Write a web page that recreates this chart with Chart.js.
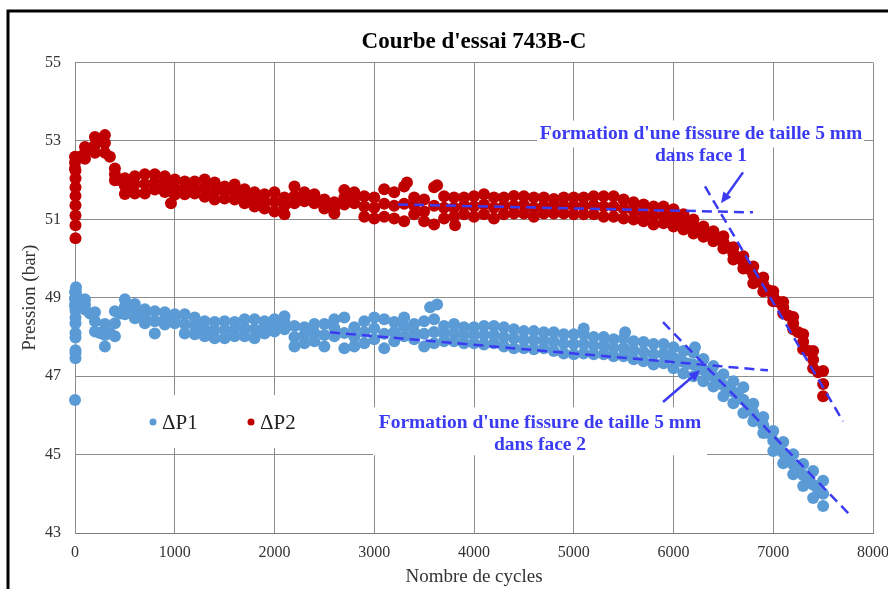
<!DOCTYPE html>
<html>
<head>
<meta charset="utf-8">
<script src="https://cdn.jsdelivr.net/npm/chart.js@4.4.1/dist/chart.umd.min.js"></script>
<style>
  html, body { margin: 0; padding: 0; background: #fff; }
  #wrap { width: 888px; height: 589px; position: relative; }
</style>
</head>
<body>
<div id="wrap"><canvas id="essaiChart"></canvas></div>
<script>
// Courbe d'essai 743B-C

// x positions of the band readings (cycles)
const cycles = [
  0, 100, 200, 300, 400, 500, 600, 700, 800, 900,
  1000, 1100, 1200, 1300, 1400, 1500, 1600, 1700, 1800, 1900,
  2000, 2100, 2200, 2300, 2400, 2500, 2600, 2700, 2800, 2900,
  3000, 3100, 3200, 3300, 3400, 3500, 3600, 3700, 3800, 3900,
  4000, 4100, 4200, 4300, 4400, 4500, 4600, 4700, 4800, 4900,
  5000, 5100, 5200, 5300, 5400, 5500, 5600, 5700, 5800, 5900,
  6000, 6100, 6200, 6300, 6400, 6500, 6600, 6700, 6800, 6900,
  7000, 7100, 7200, 7300, 7400, 7500
];

// ΔP2 (red) : top, middle and bottom of the point cloud
const p2High = [
  52.6, 52.85, 53.1, 53.15, 52.3, 52.05, 52.1, 52.15, 52.15, 52.1,
  52.02, 51.97, 51.97, 52.02, 51.94, 51.84, 51.89, 51.77, 51.69, 51.64,
  51.69, 51.56, 51.84, 51.69, 51.64, 51.51, 51.44, 51.75, 51.69, 51.59,
  51.56, 51.77, 51.69, 51.84, 51.56, 51.51, 51.82, 51.59, 51.56, 51.56,
  51.59, 51.64, 51.56, 51.56, 51.6, 51.59, 51.56, 51.56, 51.52, 51.56,
  51.56, 51.56, 51.59, 51.59, 51.59, 51.51, 51.44, 51.38, 51.33, 51.33,
  51.26, 51.13, 51.0, 50.82, 50.7, 50.57, 50.29, 50.06, 49.8, 49.52,
  49.17, 48.89, 48.51, 48.07, 47.64, 47.13
];
const p2Mid = [
  52.45, 52.7, 52.9, 52.95, 52.15, 51.85, 51.9, 51.9, 51.95, 51.9,
  51.8, 51.8, 51.8, 51.8, 51.72, 51.7, 51.7, 51.6, 51.5, 51.45,
  51.45, 51.35, 51.6, 51.57, 51.52, 51.4, 51.3, 51.55, 51.55, 51.33,
  51.3, 51.4, 51.35, 51.4, 51.35, 51.2, 51.35, 51.3, 51.3, 51.35,
  51.33, 51.38, 51.3, 51.35, 51.35, 51.37, 51.3, 51.35, 51.35, 51.35,
  51.35, 51.34, 51.36, 51.33, 51.33, 51.27, 51.22, 51.16, 51.1, 51.1,
  51.04, 50.94, 50.82, 50.7, 50.57, 50.42, 50.13, 49.9, 49.58, 49.34,
  49.04, 48.75, 48.35, 47.88, 47.42, 46.8
];
const p2Low = [
  52.3, 52.55, 52.7, 52.7, 52.0, 51.65, 51.66, 51.66, 51.76, 51.7,
  51.63, 51.64, 51.66, 51.58, 51.51, 51.53, 51.51, 51.41, 51.33, 51.28,
  51.2, 51.13, 51.41, 51.46, 51.41, 51.28, 51.15, 51.38, 51.41, 51.07,
  51.02, 51.07, 51.02, 50.95, 51.13, 50.95, 50.87, 51.02, 51.07, 51.13,
  51.07, 51.13, 51.02, 51.13, 51.15, 51.15, 51.07, 51.15, 51.15, 51.15,
  51.13, 51.13, 51.13, 51.07, 51.07, 51.02, 51.0, 50.95, 50.87, 50.9,
  50.82, 50.74, 50.64, 50.56, 50.44, 50.26, 49.98, 49.75, 49.37, 49.16,
  48.91, 48.6, 48.2, 47.69, 47.2, 46.49
];

// ΔP1 (blue)
const p1High = [
  49.15, 48.96, 48.63, 48.33, 48.66, 48.96, 48.84, 48.71, 48.66, 48.63,
  48.58, 48.58, 48.5, 48.4, 48.38, 48.4, 48.38, 48.45, 48.45, 48.4,
  48.45, 48.53, 48.28, 48.25, 48.33, 48.33, 48.45, 48.5, 48.25, 48.4,
  48.5, 48.45, 48.38, 48.5, 48.33, 48.4, 48.45, 48.28, 48.33, 48.25,
  48.25, 48.28, 48.28, 48.25, 48.2, 48.15, 48.15, 48.12, 48.12, 48.07,
  48.07, 48.07, 48.0, 48.0, 47.94, 47.96, 47.89, 47.87, 47.82, 47.82,
  47.74, 47.64, 47.6, 47.44, 47.26, 47.05, 46.87, 46.72, 46.3, 45.96,
  45.6, 45.32, 45.01, 44.76, 44.58, 44.33
];
const p1Mid = [
  48.98, 48.83, 48.4, 48.05, 48.35, 48.77, 48.66, 48.53, 48.4, 48.47,
  48.46, 48.33, 48.28, 48.2, 48.17, 48.18, 48.2, 48.23, 48.2, 48.25,
  48.3, 48.37, 48.0, 48.05, 48.1, 48.05, 48.23, 48.1, 48.0, 48.12,
  48.22, 48.08, 48.13, 48.26, 48.13, 48.08, 48.13, 48.08, 48.1, 48.05,
  48.05, 48.05, 48.05, 48.0, 47.96, 47.93, 47.92, 47.92, 47.88, 47.83,
  47.82, 47.82, 47.78, 47.78, 47.72, 47.72, 47.66, 47.62, 47.56, 47.57,
  47.47, 47.36, 47.3, 47.15, 47.0, 46.77, 46.6, 46.4, 46.07, 45.75,
  45.35, 45.05, 44.75, 44.48, 44.23, 44.0
];
const p1Low = [
  48.8, 48.7, 48.14, 47.76, 48.02, 48.58, 48.48, 48.35, 48.09, 48.32,
  48.35, 48.09, 48.07, 48.02, 47.97, 47.97, 48.02, 48.02, 47.97, 48.09,
  48.14, 48.2, 47.76, 47.84, 47.89, 47.76, 48.02, 47.71, 47.76, 47.84,
  47.94, 47.71, 47.89, 48.02, 47.94, 47.76, 47.84, 47.89, 47.89, 47.84,
  47.84, 47.81, 47.84, 47.76, 47.71, 47.71, 47.69, 47.71, 47.64, 47.58,
  47.56, 47.58, 47.56, 47.56, 47.51, 47.51, 47.43, 47.38, 47.3, 47.33,
  47.2, 47.07, 47.0, 46.87, 46.74, 46.49, 46.31, 46.06, 45.85, 45.55,
  45.09, 44.78, 44.5, 44.2, 43.89, 43.69
];

// extra mid-cloud readings where the curves move fast
const fillCycles = [
  50, 150, 250, 350, 450, 550,
  5950, 6050, 6150, 6250, 6350, 6450, 6550, 6650, 6750, 6850,
  6950, 7050, 7150, 7250, 7350, 7450
];
const p2Fill = [
  52.6, 52.8, 53.0, 52.6, 52.0, 51.85,
  51.07, 51.0, 50.88, 50.76, 50.63, 50.5, 50.28, 50.02, 49.74, 49.46,
  49.19, 48.9, 48.55, 48.12, 47.65, 47.1
];
const p1Fill = [
  48.95, 48.6, 48.1, 48.1, 48.6, 48.75,
  47.5, 47.4, 47.32, 47.22, 47.07, 46.88, 46.68, 46.5, 46.22, 45.9,
  45.55, 45.2, 44.9, 44.62, 44.35, 44.1
];

// start-up points and isolated points
const p1ExtraCycles = [10, 10, 5, 5, 5, 5, 5, 5, 5, 5, 5, 5, 0, 3560, 3630, 5100, 5515, 6215];
const p1ExtraValues = [49.27, 49.14, 49.01, 48.86, 48.68, 48.5, 48.35, 48.1, 47.99, 47.66, 47.59, 47.46, 46.39, 48.76, 48.83, 48.22, 48.12, 47.74];
const p2ExtraCycles = [5, 5, 5, 5, 5, 5, 5, 5, 962, 3328, 3630, 3810];
const p2ExtraValues = [50.52, 50.85, 51.1, 51.36, 51.6, 51.82, 52.05, 52.25, 51.41, 51.94, 51.87, 50.85];

// dashed trend lines [cycles, bar]
const trendFlat2 = [[3238, 51.38], [6797, 51.18]];
const trendSteep2 = [[6316, 51.84], [7699, 45.85]];
const trendFlat1 = [[2556, 48.12], [6947, 47.15]];
const trendSteep1 = [[5895, 48.38], [7789, 43.41]];

// notes and arrows (data coordinates)
const note1Lines = ["Formation d'une fissure de taille 5 mm", "dans face 1"];
const note1At = [6276, 53.19];
const note2Lines = ["Formation d'une fissure de taille 5 mm", "dans face 2"];
const note2At = [4662, 45.80];
const arrow1 = [[6697, 52.20], [6476, 51.41]];
const arrow2 = [[5895, 46.34], [6266, 47.15]];
const legendAt = [782, 45.83];

const BLUE_NOTE = '#3b3bf2';
const SERIF = "'Liberation Serif', 'Times New Roman', serif";

function band(xs, ...rows) {
    const pts = [];
    rows.forEach(r => r.forEach((v, i) => pts.push({ x: xs[i], y: v })));
    return pts;
}
function pairs(xs, ys) {
    return xs.map((c, i) => ({ x: c, y: ys[i] }));
}
function trend(line) {
    return line.map(p => ({ x: p[0], y: p[1] }));
}

const p1Points = band(cycles, p1High, p1Mid, p1Low)
    .concat(pairs(fillCycles, p1Fill), pairs(p1ExtraCycles, p1ExtraValues));
const p2Points = band(cycles, p2High, p2Mid, p2Low)
    .concat(pairs(fillCycles, p2Fill), pairs(p2ExtraCycles, p2ExtraValues));

function dashed(line) {
    return {
        data: trend(line),
        showLine: true,
        borderColor: BLUE_NOTE,
        borderWidth: 2.5,
        borderDash: [10, 6],
        pointRadius: 0,
        order: 0,
        isTrend: true
    };
}

function drawArrow(ctx, x1, y1, x2, y2) {
    const ang = Math.atan2(y2 - y1, x2 - x1);
    const head = 12;
    ctx.beginPath();
    ctx.moveTo(x1, y1);
    ctx.lineTo(x2 - Math.cos(ang) * head * 0.7, y2 - Math.sin(ang) * head * 0.7);
    ctx.stroke();
    ctx.beginPath();
    ctx.moveTo(x2, y2);
    ctx.lineTo(x2 - head * Math.cos(ang - 0.42), y2 - head * Math.sin(ang - 0.42));
    ctx.lineTo(x2 - head * Math.cos(ang + 0.42), y2 - head * Math.sin(ang + 0.42));
    ctx.closePath();
    ctx.fill();
}

const decor = {
    id: 'decor',
    beforeDraw(chart) {
        const ctx = chart.ctx;
        ctx.save();
        ctx.fillStyle = '#fff';
        ctx.fillRect(0, 0, chart.width, chart.height);
        ctx.strokeStyle = '#000';
        ctx.lineWidth = 3;
        ctx.beginPath();
        ctx.moveTo(8, chart.height);
        ctx.lineTo(8, 11);
        ctx.lineTo(chart.width, 11);
        ctx.stroke();
        ctx.restore();
    },
    beforeDatasetsDraw(chart) {
        // white text boxes hide the grid behind notes and legend
        const { ctx, scales: { x, y } } = chart;
        ctx.save();
        ctx.fillStyle = '#fff';
        const n1x = x.getPixelForValue(note1At[0]), n1y = y.getPixelForValue(note1At[1]);
        ctx.fillRect(n1x - 164, n1y - 13, 327, 27);
        const n2x = x.getPixelForValue(note2At[0]), n2y = y.getPixelForValue(note2At[1]);
        ctx.fillRect(n2x - 167, n2y - 16, 334, 48);
        const lx = x.getPixelForValue(legendAt[0]), ly = y.getPixelForValue(legendAt[1]);
        ctx.fillRect(lx - 43, ly - 27, 220, 53);
        ctx.restore();
    },
    afterDraw(chart) {
        const { ctx, scales: { x, y } } = chart;
        ctx.save();
        ctx.strokeStyle = BLUE_NOTE;
        ctx.fillStyle = BLUE_NOTE;
        ctx.lineWidth = 2.5;
        [arrow1, arrow2].forEach(a => {
            drawArrow(ctx, x.getPixelForValue(a[0][0]), y.getPixelForValue(a[0][1]),
                x.getPixelForValue(a[1][0]), y.getPixelForValue(a[1][1]));
        });

        ctx.font = "bold 19.5px " + SERIF;
        ctx.textAlign = 'center';
        ctx.textBaseline = 'middle';
        [[note1Lines, note1At], [note2Lines, note2At]].forEach(([lines, at]) => {
            const px = x.getPixelForValue(at[0]);
            const py = y.getPixelForValue(at[1]);
            lines.forEach((t, i) => ctx.fillText(t, px, py + i * 22));
        });

        // legend
        const lx = x.getPixelForValue(legendAt[0]);
        const ly = y.getPixelForValue(legendAt[1]);
        const series = chart.data.datasets.filter(d => !d.isTrend);
        ctx.font = "21px " + SERIF;
        ctx.textAlign = 'left';
        series.forEach((d, i) => {
            const dx = lx + i * 98;
            ctx.fillStyle = d.backgroundColor;
            ctx.beginPath();
            ctx.arc(dx, ly, 3.5, 0, Math.PI * 2);
            ctx.fill();
            ctx.fillStyle = '#222';
            ctx.fillText(d.label, dx + 9, ly + 1);
        });
        ctx.restore();
    }
};

new Chart(document.getElementById('essaiChart'), {
    type: 'scatter',
    data: {
        datasets: [
            dashed(trendFlat2),
            dashed(trendSteep2),
            dashed(trendFlat1),
            dashed(trendSteep1),
            {
                label: 'ΔP1',
                data: p1Points,
                backgroundColor: '#5b9bd5',
                borderWidth: 0,
                pointRadius: 6,
                clip: false,
                order: 2
            },
            {
                label: 'ΔP2',
                data: p2Points,
                backgroundColor: '#c00000',
                borderWidth: 0,
                pointRadius: 6,
                clip: false,
                order: 1
            }
        ]
    },
    options: {
        responsive: true,
        maintainAspectRatio: false,
        animation: false,
        layout: { padding: { top: 0, right: 15, bottom: 0, left: 0 } },
        plugins: {
            legend: { display: false },
            tooltip: { enabled: false },
            title: {
                display: true,
                fullSize: false,
                text: "Courbe d'essai 743B-C",
                color: '#000',
                font: { family: SERIF, size: 23, weight: 'bold' },
                padding: { top: 28, bottom: 7 }
            }
        },
        scales: {
            x: {
                type: 'linear',
                min: 0,
                max: 8000,
                ticks: {
                    stepSize: 1000, padding: 10, color: '#333',
                    font: { family: SERIF, size: 16 },
                    callback: v => String(v)
                },
                grid: { color: '#8c8c8c', drawTicks: false },
                border: { color: '#7a7a7a' },
                title: {
                    display: true,
                    text: 'Nombre de cycles',
                    color: '#333',
                    font: { family: SERIF, size: 19 },
                    padding: { top: 0, bottom: 1 }
                },
                afterFit(scale) {
                    scale.height = 56;
                    scale.paddingLeft = 0;
                    scale.paddingRight = 0;
                }
            },
            y: {
                min: 43,
                max: 55,
                ticks: {
                    stepSize: 2, padding: 14, color: '#333',
                    font: { family: SERIF, size: 16 },
                    callback: v => String(v)
                },
                grid: { color: '#8c8c8c', drawTicks: false },
                border: { color: '#8c8c8c' },
                title: {
                    display: true,
                    text: 'Pression (bar)',
                    color: '#333',
                    font: { family: SERIF, size: 19 },
                    padding: { top: 19, bottom: 0 }
                },
                afterFit(scale) {
                    scale.width = 75;
                }
            }
        }
    },
    plugins: [decor]
});
</script>
</body>
</html>
